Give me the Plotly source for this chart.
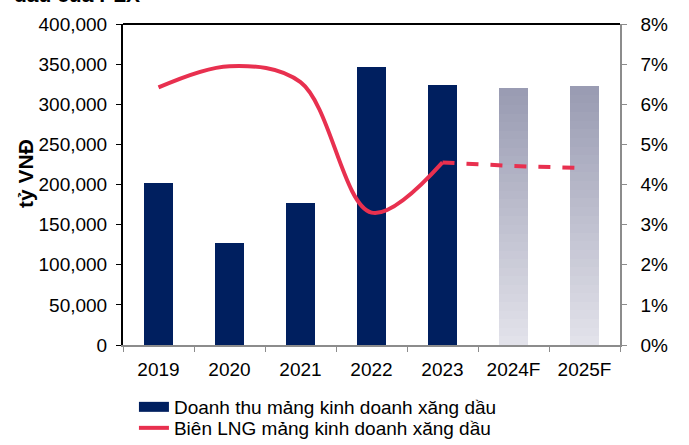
"""PLX fuel business: revenue bars and net margin line."""

import numpy as np
import plotly.graph_objects as go

years = ["2019", "2020", "2021", "2022", "2023", "2024F", "2025F"]
revenue = [202000, 127000, 177000, 347000, 324000, 320500, 322500]
forecast = [False, False, False, False, False, True, True]
margin_actual = [0.0642, 0.0695, 0.0655, 0.0330, 0.0455]
margin_fcst = [0.0455, 0.0446, 0.0441]

NAVY = "#001F5F"
RED = "#E8304F"
GRAD_TOP = np.array([0x9A, 0x9C, 0xB3])
GRAD_BOTTOM = np.array([0xE2, 0xE2, 0xEA])
N_SLICES = 30
FONT = "Liberation Sans, Arial, sans-serif"

fig = go.Figure()

act_x = [y for y, f in zip(years, forecast) if not f]
act_y = [v for v, f in zip(revenue, forecast) if not f]
fc_x = [y for y, f in zip(years, forecast) if f]
fc_y = [v for v, f in zip(revenue, forecast) if f]

fig.add_trace(
    go.Bar(
        x=act_x,
        y=act_y,
        marker=dict(color=NAVY, line=dict(width=0)),
        width=0.41,
        showlegend=False,
        name="Doanh thu mảng kinh doanh xăng dầu",
    )
)

# forecast bars: fake a vertical gradient with stacked slices
for i in range(N_SLICES):
    t = i / (N_SLICES - 1)
    rgb = GRAD_BOTTOM + (GRAD_TOP - GRAD_BOTTOM) * t
    fig.add_trace(
        go.Bar(
            x=fc_x,
            y=[v / N_SLICES for v in fc_y],
            marker=dict(color="rgb(%d,%d,%d)" % tuple(rgb.astype(int)), line=dict(width=0)),
            width=0.41,
            showlegend=False,
            hoverinfo="skip",
        )
    )

# legend-only entry so the bar key is drawn as a wide block
fig.add_trace(
    go.Scatter(
        x=[None],
        y=[None],
        mode="lines",
        line=dict(color=NAVY, width=12),
        name="Doanh thu mảng kinh doanh xăng dầu",
        legend="legend",
    )
)

fig.add_trace(
    go.Scatter(
        x=years[:5],
        y=margin_actual,
        mode="lines",
        line=dict(color=RED, width=4, shape="spline", smoothing=1.0),
        yaxis="y2",
        name="Biên LNG mảng kinh doanh xăng dầu",
        legend="legend2",
    )
)
fig.add_trace(
    go.Scatter(
        x=years[4:],
        y=margin_fcst,
        mode="lines",
        line=dict(color=RED, width=4, dash="dash"),
        yaxis="y2",
        showlegend=False,
    )
)

legend_style = dict(
    x=0.022,
    xanchor="left",
    yanchor="middle",
    font=dict(size=19),
    bgcolor="rgba(0,0,0,0)",
)

fig.update_layout(
    width=689,
    height=445,
    barmode="stack",
    bargap=0.59,
    paper_bgcolor="white",
    plot_bgcolor="white",
    font=dict(family=FONT, size=19, color="black"),
    margin=dict(l=123, r=69, t=24, b=100, autoexpand=False),
    xaxis=dict(
        showline=True,
        linecolor="#8C8C8C",
        linewidth=1.5,
        ticks="outside",
        tickson="boundaries",
        ticklen=5,
        tickcolor="#8C8C8C",
        ticklabelstandoff=6,
        showgrid=False,
        automargin=False,
    ),
    yaxis=dict(
        range=[0, 400000],
        dtick=50000,
        tickformat=",",
        showline=True,
        linecolor="black",
        linewidth=2,
        ticks="outside",
        ticklen=5,
        tickcolor="black",
        ticklabelstandoff=5,
        showgrid=False,
        zeroline=False,
        automargin=False,
    ),
    yaxis2=dict(
        range=[0, 0.08],
        dtick=0.01,
        tickformat=".0%",
        overlaying="y",
        side="right",
        showline=True,
        linecolor="#8C8C8C",
        linewidth=1.5,
        ticks="outside",
        ticklen=5,
        tickcolor="#8C8C8C",
        ticklabelstandoff=10,
        showgrid=False,
        zeroline=False,
        automargin=False,
    ),
    legend=dict(y=(345 - 407) / 321, **legend_style),
    legend2=dict(y=(345 - 428) / 321, **legend_style),
    shapes=[
        dict(
            type="line",
            xref="paper",
            yref="paper",
            x0=0,
            x1=1,
            y0=1,
            y1=1,
            line=dict(color="black", width=2),
        )
    ],
    annotations=[
        # tail of the wrapped chart caption, mostly cut off by the top edge
        dict(
            text="<b>dầu của PLX</b>",
            xref="paper",
            yref="paper",
            x=-0.224,
            y=1.05,
            xanchor="left",
            yanchor="bottom",
            showarrow=False,
            font=dict(size=21),
        ),
        dict(
            text="<b>tỷ VNĐ</b>",
            xref="paper",
            yref="paper",
            x=(25 - 123) / 497,
            y=(345 - 174) / 321,
            xanchor="center",
            yanchor="middle",
            textangle=-90,
            showarrow=False,
            font=dict(size=21),
        ),
    ],
)

# drop the default 8px body margin so the figure sits at the page origin
fig.write_html(
    "out.html",
    config={"displayModeBar": False},
    post_script="document.body.style.margin='0';",
)
